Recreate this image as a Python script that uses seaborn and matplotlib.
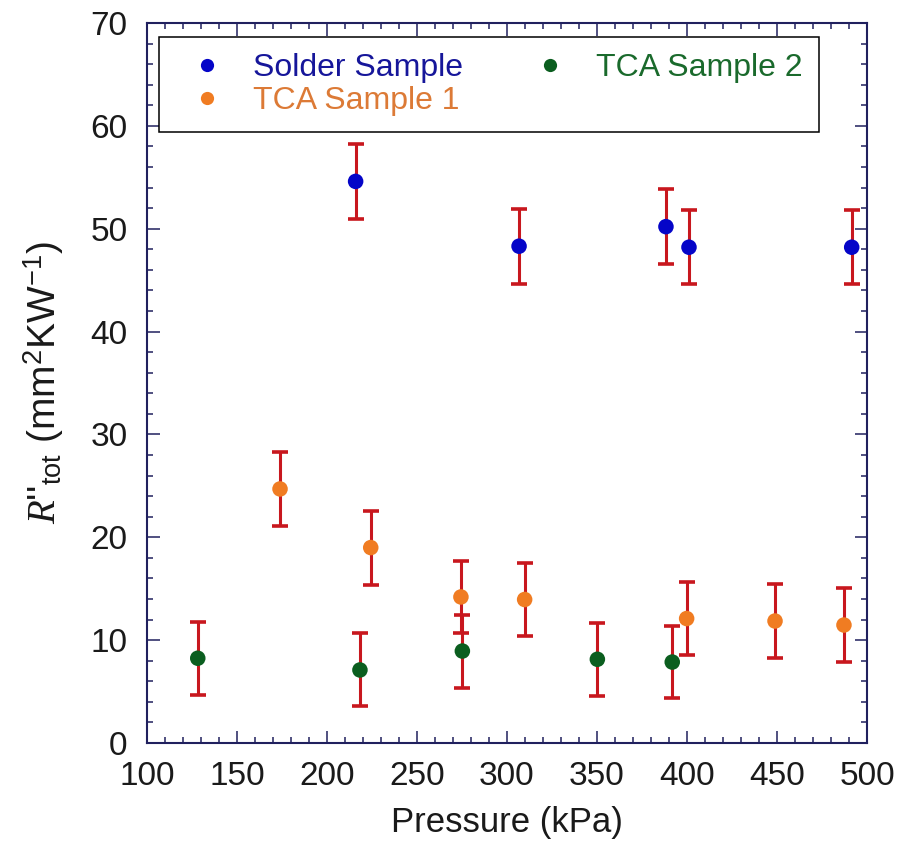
import pandas as pd
import matplotlib
matplotlib.use("Agg")
import matplotlib.pyplot as plt
from matplotlib.ticker import MultipleLocator
import seaborn as sns

# Données
solder_p = [215.9, 306.7, 388.3, 401.1, 491.5]
solder_r = [54.6, 48.3, 50.2, 48.2, 48.2]
solder_err = [3.65, 3.65, 3.65, 3.6, 3.6]

tca1_p = [173.9, 224.3, 274.4, 309.8, 399.8, 448.9, 487.2]
tca1_r = [24.7, 19.0, 14.2, 13.95, 12.1, 11.86, 11.47]
tca1_err = [3.6, 3.6, 3.5, 3.55, 3.55, 3.6, 3.6]

tca2_p = [128.2, 218.3, 275.2, 350.2, 391.8]
tca2_r = [8.24, 7.1, 8.94, 8.14, 7.87]
tca2_err = [3.55, 3.55, 3.55, 3.55, 3.5]

series_names = ["Solder Sample", "TCA Sample 1", "TCA Sample 2"]
marker_colors = {"Solder Sample": "#0505c8", "TCA Sample 1": "#f07c22", "TCA Sample 2": "#0b5e1f"}
text_colors = {"Solder Sample": "#16169a", "TCA Sample 1": "#dc7a36", "TCA Sample 2": "#1a6a2c"}
err_color = "#c8171e"
spine_color = "#20205e"

df = pd.concat([
    pd.DataFrame({"pressure": solder_p, "r": solder_r, "err": solder_err, "sample": series_names[0]}),
    pd.DataFrame({"pressure": tca1_p, "r": tca1_r, "err": tca1_err, "sample": series_names[1]}),
    pd.DataFrame({"pressure": tca2_p, "r": tca2_r, "err": tca2_err, "sample": series_names[2]}),
], ignore_index=True)

sns.set_theme(style="ticks")
plt.rcParams["font.family"] = ["Liberation Sans", "DejaVu Sans"]
plt.rcParams["mathtext.fontset"] = "custom"
plt.rcParams["mathtext.rm"] = "Liberation Sans"
plt.rcParams["mathtext.it"] = "Liberation Serif:italic"
plt.rcParams["mathtext.bf"] = "Liberation Sans:bold"
plt.rcParams["text.color"] = "#1a1a1a"
plt.rcParams["axes.labelcolor"] = "#1a1a1a"

fig = plt.figure(figsize=(8.99, 8.44), dpi=100)
ax = fig.add_axes([147 / 899, 1 - 743 / 844, 720 / 899, 720 / 844])

# barres d'erreur
ax.errorbar(df["pressure"], df["r"], yerr=df["err"], fmt="none", ecolor=err_color,
            elinewidth=2.2, capsize=5.5, capthick=2.6, zorder=2)

sns.scatterplot(data=df, x="pressure", y="r", hue="sample", hue_order=series_names,
                palette=marker_colors, s=125, edgecolor=None, linewidth=0, ax=ax, zorder=3)

ax.set_xlim(100, 500)
ax.set_ylim(0, 70)
ax.xaxis.set_major_locator(MultipleLocator(50))
ax.xaxis.set_minor_locator(MultipleLocator(10))
ax.yaxis.set_major_locator(MultipleLocator(10))
ax.yaxis.set_minor_locator(MultipleLocator(2))

for sp in ax.spines.values():
    sp.set_color(spine_color)
    sp.set_linewidth(1.5)
ax.tick_params(which="both", direction="in", top=True, right=True, color=spine_color,
               labelcolor="#1a1a1a")
ax.tick_params(which="major", length=9, width=1.1)
ax.tick_params(which="minor", length=4.5, width=1.1)
ax.tick_params(axis="x", labelsize=24, pad=13)
ax.tick_params(axis="y", labelsize=24, pad=14)

ax.set_xlabel("Pressure (kPa)", fontsize=25, labelpad=10)
ax.set_ylabel(r"$R$''$_{\mathrm{tot}}$ (mm$^{2}$KW$^{-1}$)", fontsize=28)
ax.yaxis.set_label_coords(-0.113, 0.5)

handles, labels = ax.get_legend_handles_labels()
leg = ax.legend(handles, labels, ncol=2, loc="upper left", bbox_to_anchor=(0.0167, 0.9806),
                borderaxespad=0, fontsize=23, frameon=True, fancybox=False, framealpha=1,
                edgecolor="black", borderpad=0.5, labelspacing=0.11, handlelength=2.0,
                handletextpad=0.45, columnspacing=1.72, markerscale=0.85)
leg.get_frame().set_linewidth(1.1)
for t in leg.get_texts():
    t.set_color(text_colors[t.get_text()])

fig.savefig("out.png", dpi=100)
